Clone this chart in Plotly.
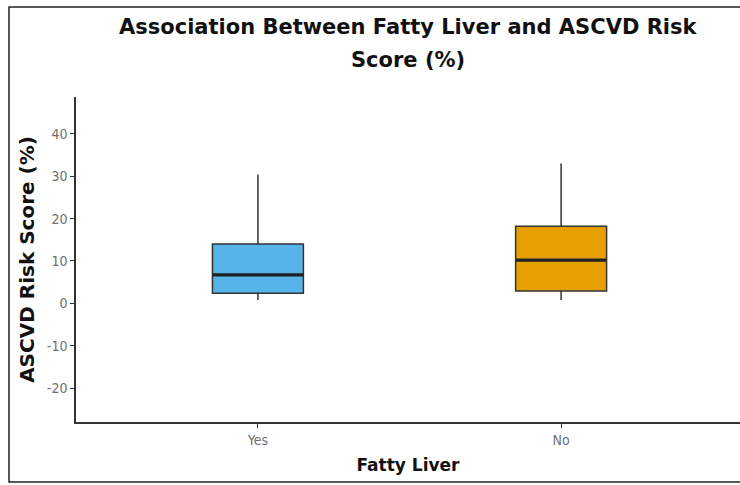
import plotly.graph_objects as go

# Summary statistics of ASCVD risk score (%) by fatty liver status
groups = ["Yes", "No"]
q1 = [2.4, 2.9]
medians = [6.7, 10.2]
q3 = [14.0, 18.2]
lower_whisker = [0.8, 0.8]
upper_whisker = [30.4, 33.0]
fill_colors = ["#56B4E9", "#E69F00"]

y_ticks = [-20, -10, 0, 10, 20, 30, 40]
title_lines = ["Association Between Fatty Liver and ASCVD Risk", "Score (%)"]

FONT = "DejaVu Sans"
TICK_FONT = "DejaVu Sans Condensed, DejaVu Sans"
EDGE = "#333333"

fig = go.Figure()

for i, g in enumerate(groups):
    fig.add_trace(go.Box(
        x=[g], q1=[q1[i]], median=[medians[i]], q3=[q3[i]],
        lowerfence=[lower_whisker[i]], upperfence=[upper_whisker[i]],
        fillcolor=fill_colors[i], line=dict(color=EDGE, width=1.5),
        width=0.3, whiskerwidth=0, boxpoints=False, showlegend=False,
        hoverinfo="skip",
    ))
    # heavier median bar on top of the box
    fig.add_trace(go.Box(
        x=[g], q1=[medians[i]], median=[medians[i]], q3=[medians[i]],
        lowerfence=[medians[i]], upperfence=[medians[i]],
        fillcolor="rgba(0,0,0,0)", line=dict(color="#222222", width=3.2),
        width=0.3, whiskerwidth=0, boxpoints=False, showlegend=False,
        hoverinfo="skip",
    ))

# two-line bold title, each line placed on its own
title_annotations = [
    dict(text="<b>%s</b>" % line, xref="paper", yref="paper", x=0.5, y=yy,
         xanchor="center", yanchor="middle", showarrow=False,
         font=dict(family=FONT, size=21, color="#111111"))
    for line, yy in zip(title_lines, [1.2154, 1.1138])
]

fig.update_layout(
    width=740, height=485,
    margin=dict(l=76, r=0, t=97, b=63),
    paper_bgcolor="white", plot_bgcolor="white",
    boxmode="overlay",
    font=dict(family=FONT, color="#222222"),
    annotations=title_annotations,
    xaxis=dict(
        type="category", categoryorder="array", categoryarray=groups,
        range=[-0.60, 1.59],
        showline=True, linecolor=EDGE, linewidth=1.5,
        ticks="outside", ticklen=4, tickcolor=EDGE, tickwidth=1,
        showgrid=False, zeroline=False,
        tickfont=dict(family=TICK_FONT, size=14, color="#707070"),
        title=dict(text="<b>Fatty Liver</b>", font=dict(family=FONT, size=17, color="#111111"),
                   standoff=13),
    ),
    yaxis=dict(
        range=[-28, 48.7],
        tickvals=y_ticks, ticktext=[str(v) for v in y_ticks],
        showline=True, linecolor=EDGE, linewidth=1.5,
        ticks="outside", ticklen=4, tickcolor=EDGE, tickwidth=1,
        showgrid=False, zeroline=False,
        tickfont=dict(family=TICK_FONT, size=14, color="#707070"),
        title=dict(text="<b>ASCVD Risk Score (%)</b>", font=dict(family=FONT, size=20, color="#111111"),
                   standoff=7),
    ),
    shapes=[dict(
        type="rect", xref="paper", yref="paper",
        x0=-0.1009, x1=1.02, y0=-0.1846, y1=1.2769,
        line=dict(color="#222222", width=1.5), fillcolor="rgba(0,0,0,0)",
        layer="above",
    )],
)

fig.write_html("out.html")
